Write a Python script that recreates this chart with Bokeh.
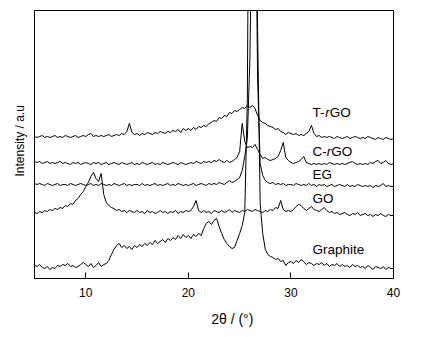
import math
from bokeh.plotting import figure
from bokeh.models import Range1d, Label, FixedTicker, Title
from bokeh.embed import file_html
from bokeh.resources import INLINE

# 2theta sampling grid (degrees), 5 .. 40 in 0.25 steps
two_theta = [5 + 0.25 * i for i in range(141)]

# Intensities (arbitrary units, vertically offset stacks as in the figure)
graphite = [
    13, 12, 14, 11, 10, 12, 9, 11, 10, 13, 12, 14, 13, 15, 12, 13, 11, 12, 14, 16,
    14, 12, 15, 11, 13, 16, 12, 14, 15, 18, 24, 29, 33, 35, 31, 33, 30, 32, 29, 33,
    31, 34, 32, 35, 33, 36, 34, 38, 35, 37, 39, 36, 40, 38, 41, 39, 43, 40, 44, 41,
    43, 40, 44, 42, 45, 43, 50, 55, 57, 54, 58, 60, 52, 45, 39, 35, 32, 30, 31, 38,
    45, 53, 66, 180, 600, 700, 600, 250, 75, 45, 29, 24, 22, 21, 19, 20, 17, 18, 13, 16,
    17, 15, 18, 16, 19, 17, 14, 16, 15, 13, 15, 14, 16, 13, 15, 12, 14, 13, 15, 12,
    14, 12, 13, 11, 14, 12, 13, 11, 12, 10, 13, 11, 9, 12, 11, 10, 12, 9, 11, 10,
    10]

go = [
    66, 65, 67, 66, 68, 67, 69, 68, 70, 69, 71, 70, 73, 72, 75, 74, 78, 80, 84, 87,
    92, 96, 102, 106, 100, 97, 105, 84, 76, 73, 71, 70, 68, 69, 67, 68, 66, 68, 67, 66,
    68, 66, 67, 65, 68, 66, 67, 65, 66, 68, 66, 67, 65, 67, 66, 68, 65, 67, 66, 68,
    67, 68, 72, 78, 68, 66, 68, 66, 67, 65, 68, 67, 66, 68, 66, 67, 69, 66, 68, 67,
    66, 68, 67, 69, 68, 67, 69, 68, 67, 66, 68, 67, 69, 68, 71, 70, 78, 69, 67, 68,
    67, 69, 72, 74, 73, 70, 68, 70, 72, 69, 68, 67, 69, 71, 68, 66, 67, 65, 66, 64,
    65, 66, 64, 63, 65, 64, 66, 63, 64, 65, 63, 64, 62, 64, 63, 65, 63, 62, 64, 63,
    63]

eg = [
    95, 94, 95, 94, 93, 95, 94, 93, 94, 95, 93, 94, 94, 93, 95, 94, 93, 94, 95, 94,
    93, 94, 95, 93, 94, 93, 95, 94, 93, 94, 93, 95, 94, 93, 94, 95, 93, 94, 93, 94,
    94, 93, 95, 93, 94, 93, 94, 95, 93, 94, 93, 94, 95, 93, 94, 93, 95, 94, 93, 94,
    93, 94, 95, 93, 94, 95, 94, 93, 95, 94, 95, 94, 96, 95, 94, 96, 98, 96, 97, 99,
    101, 108, 122, 140, 220, 400, 450, 200, 115, 103, 98, 96, 95, 96, 94, 95, 94, 95, 93, 94,
    94, 93, 95, 94, 93, 94, 93, 95, 93, 94, 92, 94, 93, 94, 92, 93, 94, 92, 93, 94,
    93, 92, 94, 92, 93, 92, 94, 93, 92, 93, 92, 93, 91, 93, 92, 93, 95, 92, 93, 92,
    92]

c_rgo = [
    117, 116, 117, 115, 116, 117, 115, 116, 115, 116, 117, 115, 116, 115, 114, 116, 115, 116, 114, 115,
    116, 115, 114, 116, 115, 116, 114, 115, 116, 114, 115, 116, 115, 114, 116, 115, 114, 115, 116, 114,
    115, 114, 116, 115, 114, 115, 116, 114, 115, 114, 116, 115, 114, 115, 116, 115, 114, 116, 115, 114,
    115, 116, 115, 117, 116, 115, 117, 116, 117, 116, 118, 117, 119, 117, 116, 118, 116, 117, 119, 121,
    127, 155, 137, 131, 132, 131, 134, 129, 124, 120, 121, 119, 118, 119, 120, 122, 128, 136, 121, 118,
    116, 115, 116, 117, 119, 122, 116, 115, 114, 115, 114, 115, 114, 115, 114, 116, 115, 114, 115, 114,
    115, 114, 115, 116, 117, 115, 114, 115, 114, 115, 114, 116, 115, 117, 118, 115, 116, 118, 115, 114,
    115]

t_rgo = [
    142, 141, 142, 143, 141, 142, 141, 142, 143, 141, 142, 141, 143, 142, 141, 142, 143, 141, 142, 143,
    142, 144, 145, 142, 143, 142, 143, 142, 143, 144, 142, 143, 144, 143, 145, 144, 147, 155, 146, 144,
    145, 143, 145, 144, 146, 145, 144, 146, 145, 147, 146, 145, 147, 146, 148, 147, 149, 146, 150, 148,
    150, 148, 151, 149, 152, 151, 153, 152, 155, 156, 158, 157, 161, 160, 163, 162, 166, 165, 168, 167,
    169, 171, 170, 173, 171, 173, 170, 163, 158, 156, 155, 153, 152, 151, 149, 150, 147, 146, 144, 146,
    145, 144, 145, 143, 144, 143, 145, 147, 153, 145, 142, 143, 141, 142, 141, 142, 141, 140, 142, 141,
    140, 141, 142, 140, 141, 142, 141, 140, 141, 140, 142, 141, 140, 139, 141, 140, 139, 141, 140, 139,
    140]

x_ticks = [10, 20, 30, 40]

FONT = "Liberation Sans"

p = figure(width=421, height=337, output_backend="svg", toolbar_location=None,
           x_range=Range1d(5, 40), y_range=Range1d(0, 268),
           min_border_left=34, min_border_right=28, min_border_top=10, min_border_bottom=59)
p.background_fill_color = "white"
p.border_fill_color = "white"
p.outline_line_color = "black"
p.outline_line_width = 1
p.xgrid.visible = False
p.ygrid.visible = False
p.yaxis.visible = False

xa = p.xaxis[0]
xa.ticker = FixedTicker(ticks=x_ticks)
xa.major_tick_in = 6
xa.major_tick_out = 0
xa.minor_tick_line_color = None
xa.major_tick_line_color = "black"
xa.axis_line_color = "black"
xa.major_label_text_font = FONT
xa.major_label_text_font_size = "12px"
xa.major_label_text_color = "black"
xa.major_label_standoff = 9

for series in [graphite, go, eg, c_rgo, t_rgo]:
    p.line(two_theta, series, line_color="black", line_width=1)

def add_label(x, y, txt, style="normal", dx=0, size="13.5px", **kw):
    p.add_layout(Label(x=x, y=y, text=txt, x_offset=dx, text_font=FONT,
                       text_font_size=size, text_font_style=style,
                       text_color="black", **kw))

lx = 32.1
# T-rGO
add_label(lx, 158.5, "T-")
add_label(lx, 158.5, "r", style="italic", dx=12.7)
add_label(lx, 158.5, "GO", dx=17.2)
# C-rGO
add_label(lx, 120, "C-")
add_label(lx, 120, "r", style="italic", dx=14.2)
add_label(lx, 120, "GO", dx=18.7)
add_label(lx, 97, "EG")
add_label(lx, 73, "GO")
add_label(lx, 21.3, "Graphite")

# axis titles in side panels
xt = Title(text="2θ / (°)", align="left", offset=176.7, vertical_align="middle",
           text_font=FONT, text_font_size="14px", text_font_style="normal",
           text_color="black", standoff=20)
p.add_layout(xt, "below")
yt = Title(text="Intensity / a.u", align="left", offset=102, vertical_align="middle",
           text_font=FONT, text_font_size="12px", text_font_style="normal",
           text_color="black", standoff=14)
p.add_layout(yt, "left")

open("out.html", "w").write(file_html(p, INLINE))
